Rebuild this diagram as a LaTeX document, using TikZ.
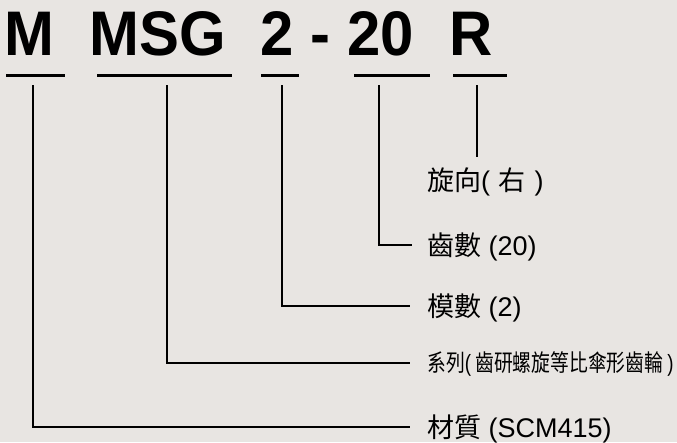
\documentclass[tikz,border=0pt]{standalone}
\usepackage{graphicx}
\usepackage{fontspec}
\setmainfont{Liberation Sans}
\newfontfamily\cjk{Noto Sans CJK TC}
\newfontfamily\lat{Liberation Sans}
\definecolor{bg}{RGB}{232,229,226}
\begin{document}
\begin{tikzpicture}[x=1pt,y=-1pt,
  title/.style={anchor=base,inner sep=0pt,font=\fontsize{63}{63}\selectfont\bfseries},
  uline/.style={line width=3pt},
  conn/.style={line width=1.7pt},
  lab/.style={anchor=west,inner sep=0pt,text height=22.4pt,text depth=1.9pt,font=\fontsize{27}{27}\selectfont\cjk},
  labsmall/.style={anchor=west,inner sep=0pt,text height=19.5pt,text depth=1.6pt,font=\fontsize{23.5}{23.5}\selectfont\cjk}]
\fill[bg] (0,0) rectangle (677,442);
\useasboundingbox (0,0) rectangle (677,442);
% code letters
\node[title] (tM)    at (29.5,55)  {\scalebox{0.95}[1]{M}};
\node[title] (tMSG)  at (157.5,55) {\scalebox{0.95}[1]{MSG}};
\node[title] (t2)    at (277,55)   {\scalebox{0.95}[1]{2}};
\node[title] (tdash) at (320,55)   {\scalebox{0.95}[1]{-}};
\node[title] (t20)   at (380.5,55) {\scalebox{0.95}[1]{20}};
\node[title] (tR)    at (471,55)   {\scalebox{0.95}[1]{R}};
% underlines
\draw[uline] (6,75) -- (65,75);
\draw[uline] (97,75) -- (232,75);
\draw[uline] (261,75) -- (299,75);
\draw[uline] (354,75) -- (430,75);
\draw[uline] (453,75) -- (507,75);
% labels
\node[lab] (lR) at (427,180) {旋向{\lat(}\hspace{0.3em}右\hspace{0.35em}{\lat)}};
\node[lab] (l20) at (427,245) {齒數{\lat\ (20)}};
\node[lab] (l2) at (427,306) {模數{\lat\ (2)}};
\node[labsmall] (lMSG) at (427,363) {\scalebox{0.8}[1]{系列{\lat(}\hspace{0.22em}齒研螺旋等比傘形齒輪\hspace{0.22em}{\lat)}}};
\node[lab] (lM) at (427,427) {材質{\lat\ (SCM415)}};
% connector start points
\coordinate (cM) at (33,85);
\coordinate (cMSG) at (167,85);
\coordinate (c2) at (282,85);
\coordinate (c20) at (379,85);
\coordinate (cR) at (477,85);
\coordinate (eR) at (477,157);
% connectors
\draw[conn] (cR) -- (eR);
\draw[conn] (c20) |- ([xshift=-15pt]l20.west);
\draw[conn] (c2) |- ([xshift=-17pt]l2.west);
\draw[conn] (cMSG) |- ([xshift=-17pt]lMSG.west);
\draw[conn] (cM) |- ([xshift=-17pt]lM.west);
\end{tikzpicture}
\end{document}
